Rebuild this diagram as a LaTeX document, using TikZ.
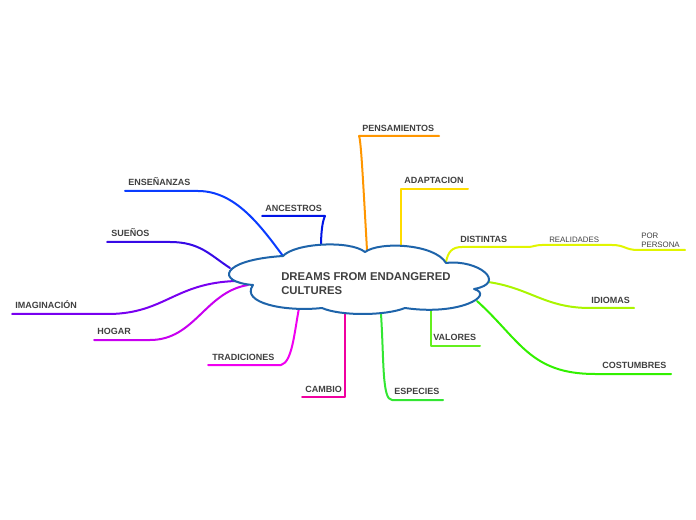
\documentclass[tikz,border=0pt]{standalone}
\usepackage{fontspec}
\setmainfont{Liberation Sans}
\definecolor{txt}{RGB}{64,64,64}
\definecolor{cloudc}{RGB}{30,100,170}
\definecolor{cEns}{RGB}{10,60,255}
\definecolor{cAnc}{RGB}{0,20,230}
\definecolor{cSue}{RGB}{55,10,230}
\definecolor{cIma}{RGB}{120,0,240}
\definecolor{cHog}{RGB}{200,0,240}
\definecolor{cTra}{RGB}{240,0,240}
\definecolor{cCam}{RGB}{240,0,160}
\definecolor{cEsp}{RGB}{50,230,50}
\definecolor{cVal}{RGB}{100,240,30}
\definecolor{cCos}{RGB}{50,240,0}
\definecolor{cIdi}{RGB}{170,245,0}
\definecolor{cDis}{RGB}{225,245,0}
\definecolor{cAda}{RGB}{255,220,0}
\definecolor{cPen}{RGB}{255,150,0}
\begin{document}
\begin{tikzpicture}[x=0.75pt,y=-0.75pt,
  br/.style={line width=1.5pt,line cap=round,line join=round},
  lab/.style={font=\bfseries\fontsize{6.75}{8}\selectfont,text=txt,inner sep=0pt,anchor=base west},
  sml/.style={font=\fontsize{5.9}{6.8}\selectfont,text=txt,inner sep=0pt,anchor=base west,align=left}]
\useasboundingbox (0,0) rectangle (696,520);
% coordinates on the cloud
\coordinate (kEns) at (283,256);
\coordinate (kAnc) at (321,247);
\coordinate (kSue) at (230,268);
\coordinate (kIma) at (236,281);
\coordinate (kHog) at (248,285);
\coordinate (kTra) at (299,308);
\coordinate (kCam) at (345,313);
\coordinate (kEsp) at (381,314);
\coordinate (kVal) at (431,311);
\coordinate (kCos) at (477,301);
\coordinate (kIdi) at (488,282);
\coordinate (kDis) at (446,262);
\coordinate (kAda) at (401,247);
\coordinate (kPen) at (367,250);
% free ends of underlines
\coordinate (eEns) at (125,191);
\coordinate (eAnc) at (262,216);
\coordinate (eSue) at (107,242);
\coordinate (eIma) at (12,314);
\coordinate (eHog) at (94,340);
\coordinate (eTra) at (208,365);
\coordinate (eCam) at (302,397);
\coordinate (eEsp) at (443,400);
\coordinate (eVal) at (480,346);
\coordinate (eCos) at (671,374);
\coordinate (eIdi) at (634,308);
\coordinate (eDis) at (685,250);
\coordinate (eAda) at (468,189);
\coordinate (ePen) at (439,136);
% branches
\draw[br,cEns] (eEns) -- (198,191) .. controls (235,191) and (260,225) .. (kEns);
\draw[br,cAnc] (eAnc) -- (325,216) .. controls (322,222) and (321,235) .. (kAnc);
\draw[br,cSue] (eSue) -- (170,242) .. controls (200,242) and (210,255) .. (kSue);
\draw[br,cIma] (eIma) -- (110,314) .. controls (165,313) and (175,283) .. (kIma);
\draw[br,cHog] (eHog) -- (150,340) .. controls (195,340) and (205,292) .. (kHog);
\draw[br,cTra] (eTra) -- (281,365) .. controls (292,362) and (294,335) .. (kTra);
\draw[br,cCam] (eCam) -- (345,397) -- (kCam);
\draw[br,cEsp] (kEsp) .. controls (384,360) and (382,400) .. (392,400) -- (eEsp);
\draw[br,cVal] (kVal) -- (431,346) -- (eVal);
\draw[br,cCos] (kCos) .. controls (520,340) and (530,374) .. (595,374) -- (eCos);
\draw[br,cIdi] (kIdi) .. controls (530,288) and (545,308) .. (590,308) -- (eIdi);
\draw[br,cDis] (kDis) .. controls (448,252) and (452,247) .. (462,247) -- (528,247)
  .. controls (533,247) and (535,245) .. (542,245) -- (612,245)
  .. controls (625,245) and (625,250) .. (638,250) -- (eDis);
\draw[br,cAda] (kAda) -- (401,189) -- (eAda);
\draw[br,cPen] (kPen) .. controls (363,180) and (361,140) .. (359,136) -- (ePen);
% cloud
\draw[line width=1.5pt,cloudc,fill=white,line join=round]
  (283,256) .. controls (295,243) and (350,240) .. (365,252)
  .. controls (380,241) and (435,244) .. (446,263)
  .. controls (478,259) and (508,283) .. (474,289)
  .. controls (495,295) and (460,316) .. (405,308)
  .. controls (385,316) and (340,316) .. (322,308)
  .. controls (285,312) and (240,303) .. (253,285)
  .. controls (215,282) and (220,260) .. cycle;
\node[font=\bfseries\fontsize{8.5}{10.5}\selectfont,text=txt,inner sep=0pt,anchor=base west,align=left] (center) at (281,295) {DREAMS FROM ENDANGERED\\CULTURES};
% labels
\node[lab] (lEns) at (128,185.5) {ENSEÑANZAS};
\node[lab] (lAnc) at (265,211.5) {ANCESTROS};
\node[lab] (lSue) at (111,236.5) {SUEÑOS};
\node[lab] (lIma) at (15,308.5) {IMAGINACIÓN};
\node[lab] (lHog) at (97,334.5) {HOGAR};
\node[lab] (lTra) at (212,360.5) {TRADICIONES};
\node[lab] (lCam) at (305,392.5) {CAMBIO};
\node[lab] (lEsp) at (394,394.5) {ESPECIES};
\node[lab] (lVal) at (433,340.5) {VALORES};
\node[lab] (lCos) at (602,368.5) {COSTUMBRES};
\node[lab] (lIdi) at (591,303.5) {IDIOMAS};
\node[lab] (lDis) at (460,242.5) {DISTINTAS};
\node[sml] (lRea) at (549,242.5) {REALIDADES};
\node[sml] (lPor) at (641,247.5) {POR\\PERSONA};
\node[lab] (lAda) at (404,183.5) {ADAPTACION};
\node[lab] (lPen) at (362,131.5) {PENSAMIENTOS};
\end{tikzpicture}
\end{document}
